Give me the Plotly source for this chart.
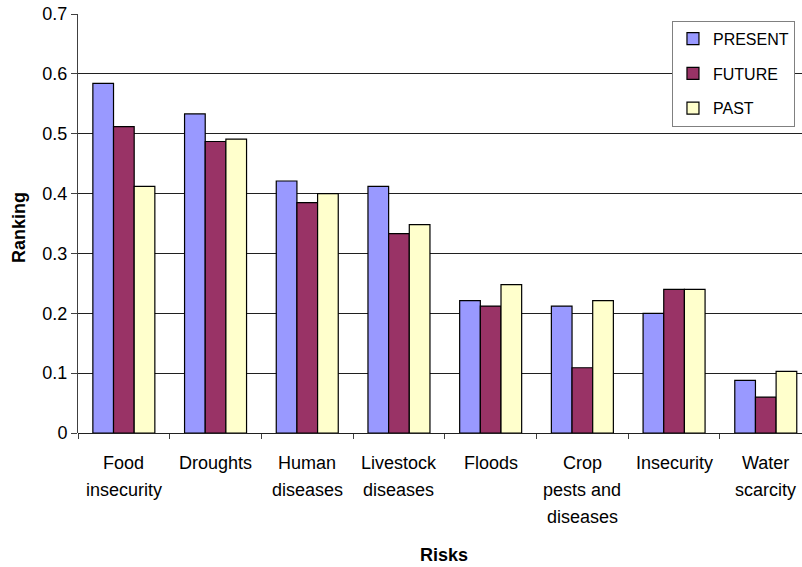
import plotly.graph_objects as go

# Risk categories and ranking scores per period
risks = ["Food insecurity", "Droughts", "Human diseases", "Livestock diseases",
         "Floods", "Crop pests and diseases", "Insecurity", "Water scarcity"]
risk_label_lines = [["Food", "insecurity"], ["Droughts"], ["Human", "diseases"],
                    ["Livestock", "diseases"], ["Floods"], ["Crop", "pests and", "diseases"],
                    ["Insecurity"], ["Water", "scarcity"]]
present = [0.584, 0.533, 0.421, 0.412, 0.221, 0.212, 0.200, 0.088]
future = [0.512, 0.487, 0.385, 0.333, 0.212, 0.109, 0.240, 0.060]
past = [0.412, 0.491, 0.400, 0.348, 0.248, 0.221, 0.240, 0.103]
y_ticks = [0, 0.1, 0.2, 0.3, 0.4, 0.5, 0.6, 0.7]
y_tick_text = ["0", "0.1", "0.2", "0.3", "0.4", "0.5", "0.6", "0.7"]

FONT = "Liberation Sans, Arial, sans-serif"
PLOT_H = 419          # plot area height in px (567 - top 14 - bottom 134)
LINE_STEP = 27        # px between category label lines
FIRST_LINE = 29.7     # px from x axis down to the centre of the first label line

series = [
    ("PRESENT", present, "#9999FF"),
    ("FUTURE", future, "#993366"),
    ("PAST", past, "#FFFFCC"),
]

fig = go.Figure()
for name, vals, color in series:
    fig.add_trace(go.Bar(
        x=risks, y=vals, name=name, legendgroup=name,
        marker=dict(color=color, line=dict(color="#000000", width=1.2)),
    ))

# category labels, one annotation per text line for wider line spacing
annotations = []
for cat, lines in zip(risks, risk_label_lines):
    for j, line in enumerate(lines):
        annotations.append(dict(
            text=line, x=cat, xref="x", yref="paper",
            y=-(FIRST_LINE + LINE_STEP * j) / PLOT_H,
            xanchor="center", yanchor="middle", showarrow=False,
            font=dict(size=18),
        ))

annotations += [
    dict(text="<b>Ranking</b>", xref="paper", yref="paper",
         x=(18.5 - 78) / 724, y=(433 - 227.5) / PLOT_H,
         xanchor="center", yanchor="middle",
         textangle=-90, showarrow=False, font=dict(size=18)),
    dict(text="<b>Risks</b>", xref="paper", yref="paper",
         x=(444 - 78) / 724, y=-(554.5 - 433) / PLOT_H,
         xanchor="center", yanchor="middle",
         showarrow=False, font=dict(size=18)),
]

fig.update_layout(
    width=802, height=567,
    margin=dict(l=78, r=0, t=14, b=134),
    paper_bgcolor="white", plot_bgcolor="white",
    barmode="group", bargap=0.324, bargroupgap=0,
    font=dict(family=FONT, size=18, color="#000000"),
    showlegend=True,
    legend=dict(
        x=0.8204, y=0.984, xanchor="left", yanchor="top",
        bgcolor="white", bordercolor="#808080", borderwidth=1,
        font=dict(family=FONT, size=16, color="#000000"),
        tracegroupgap=11, itemwidth=30,
    ),
    xaxis=dict(
        type="category", range=[-0.5, 7.395],
        showgrid=False, zeroline=False,
        showline=False, showticklabels=False,
        ticks="outside", tickson="boundaries", ticklen=5, tickcolor="#404040",
    ),
    yaxis=dict(
        range=[0, 0.7], tickvals=y_ticks, ticktext=y_tick_text,
        showgrid=True, gridcolor="#202020", gridwidth=1,
        zeroline=True, zerolinecolor="#202020", zerolinewidth=1,
        showline=True, linecolor="#404040", linewidth=1,
        ticks="outside", ticklen=6, tickcolor="#404040",
        tickfont=dict(size=18),
    ),
    annotations=annotations,
)

fig.write_html("out.html")
